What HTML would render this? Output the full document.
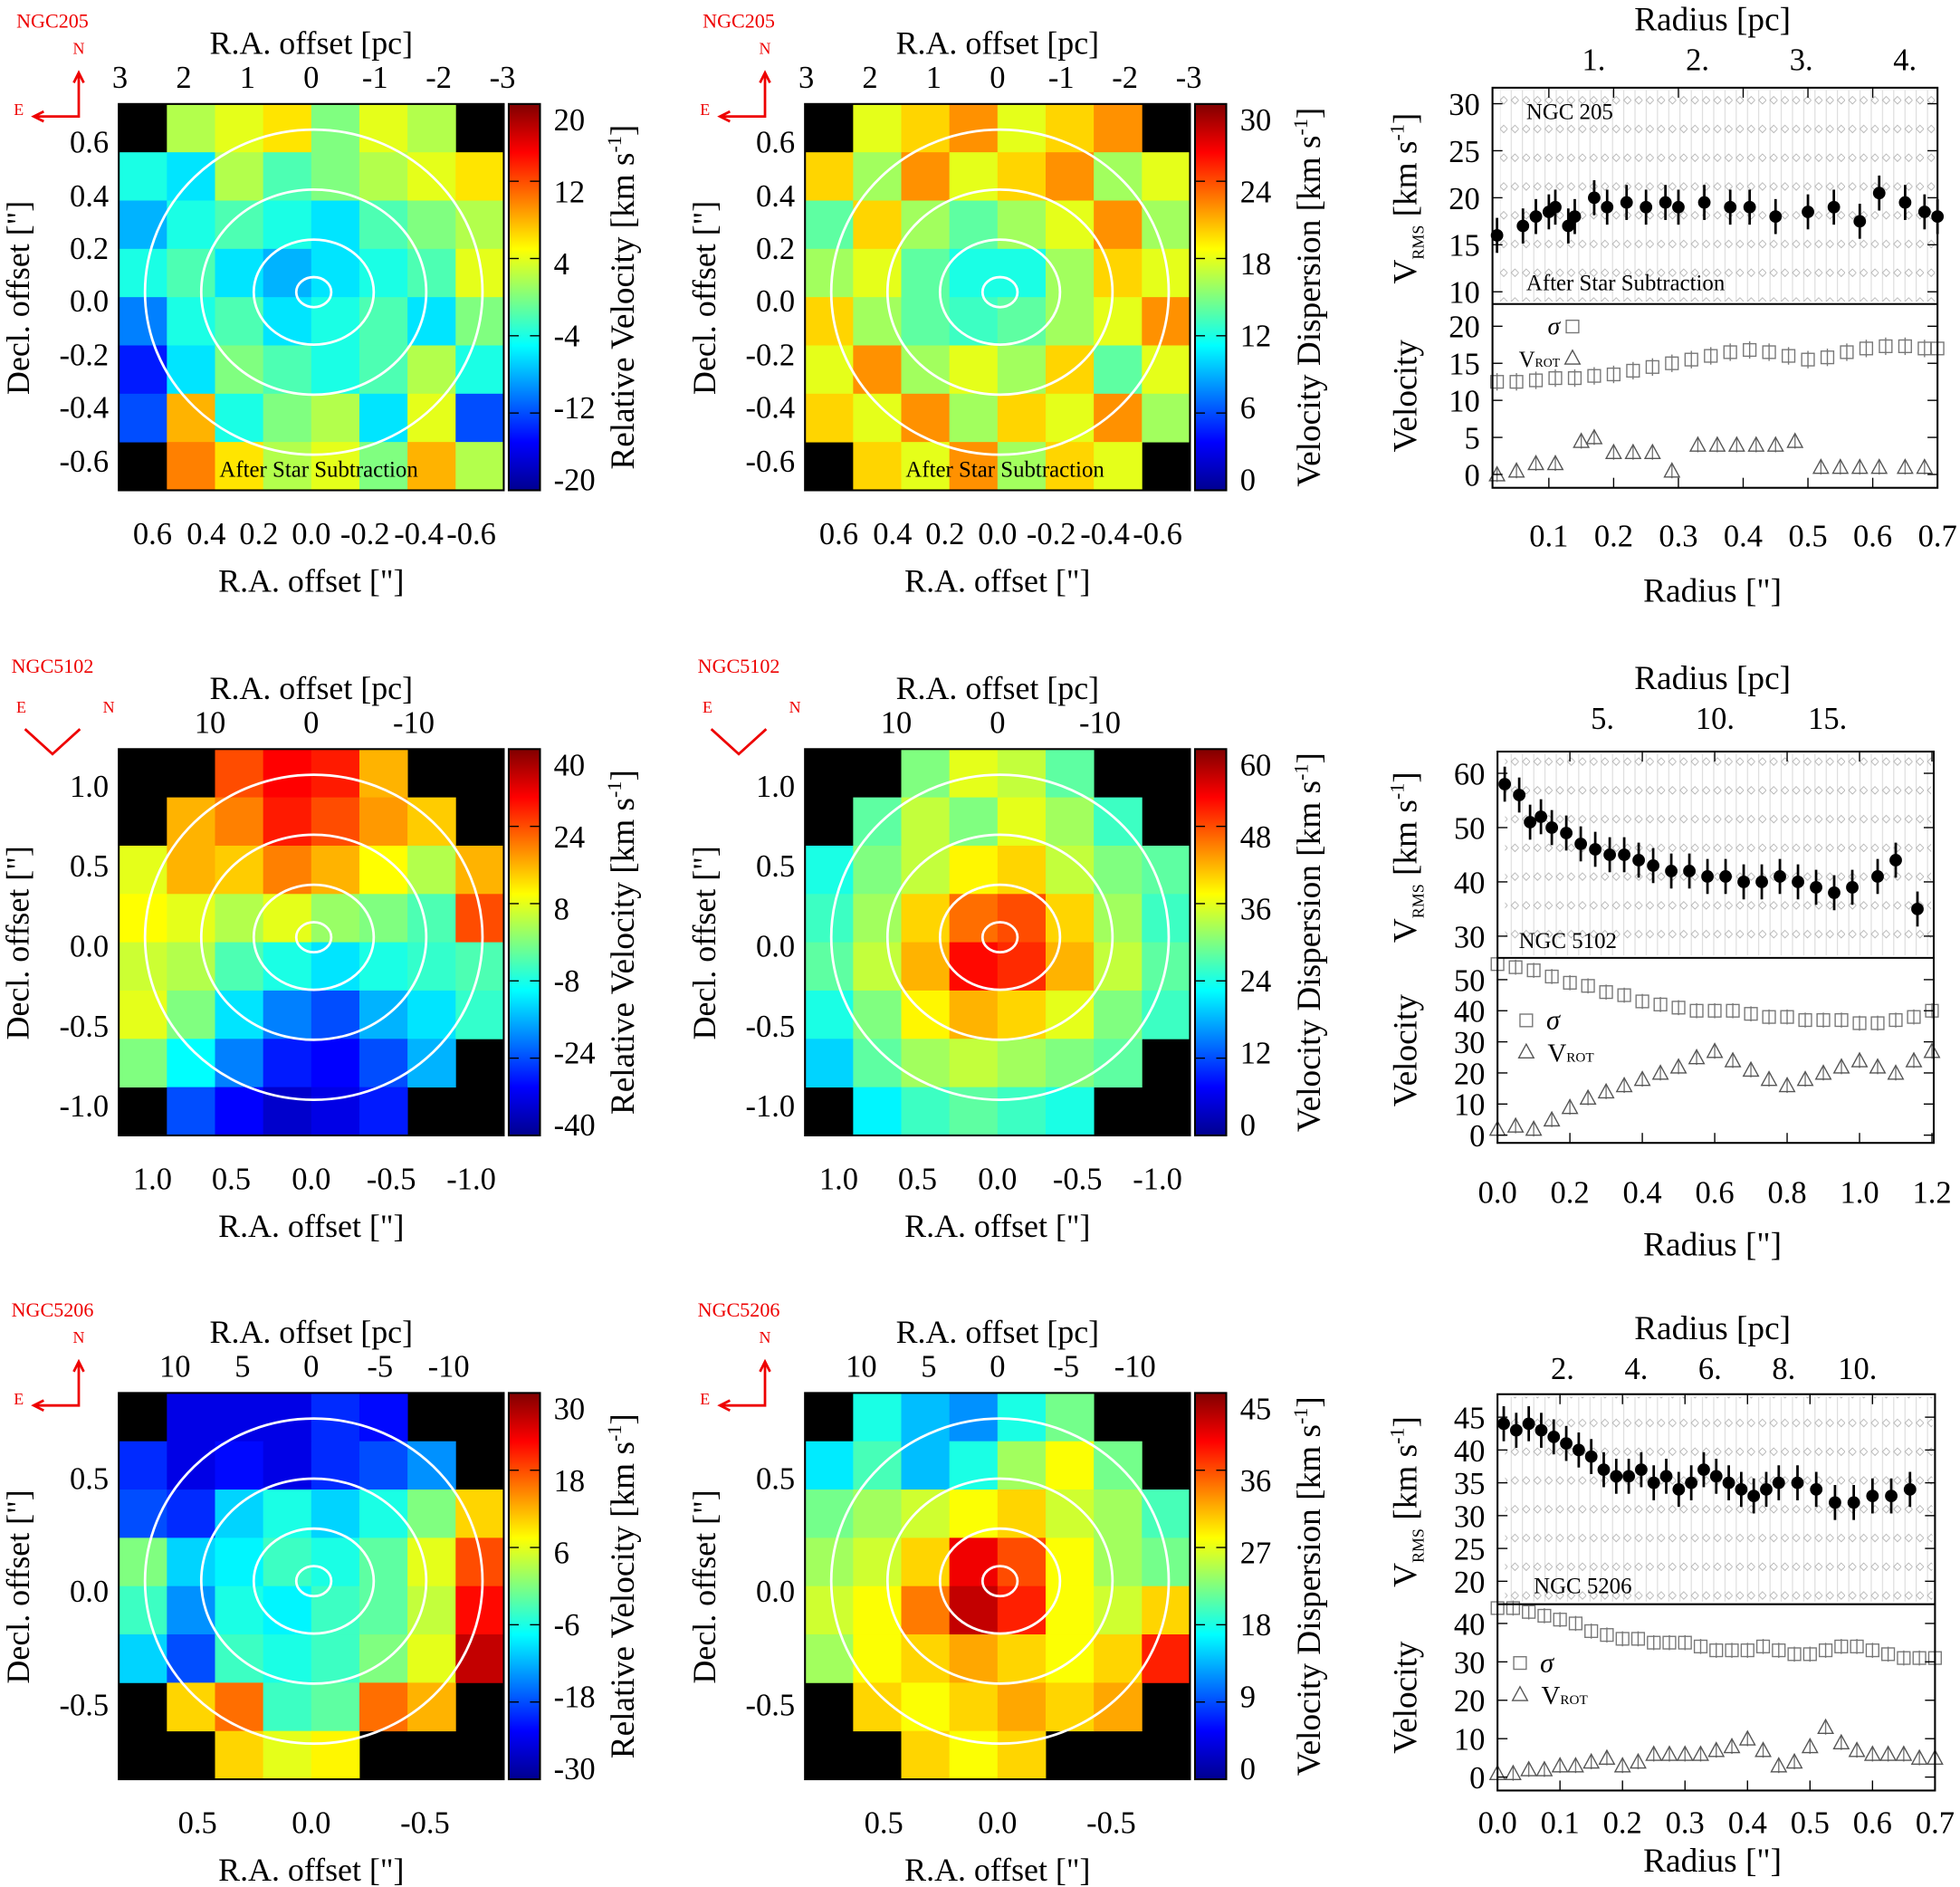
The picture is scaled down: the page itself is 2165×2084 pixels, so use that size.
<!DOCTYPE html>
<html><head><meta charset="utf-8"><style>
html,body{margin:0;padding:0;background:#fff}
svg{display:block}
text{font-family:"Liberation Serif",serif;fill:#000}
</style></head><body>
<svg id="fig" xmlns="http://www.w3.org/2000/svg" width="2165" height="2084" viewBox="0 0 1568 1509">
<defs>
<linearGradient id="jet" x1="0" y1="1" x2="0" y2="0">
<stop offset="0" stop-color="#00008f"/><stop offset="0.125" stop-color="#0000ff"/><stop offset="0.375" stop-color="#00ffff"/><stop offset="0.625" stop-color="#ffff00"/><stop offset="0.875" stop-color="#ff0000"/><stop offset="1" stop-color="#800000"/>
</linearGradient>
<pattern id="scat" width="9" height="23" patternUnits="userSpaceOnUse"><line x1="3" y1="0" x2="3" y2="23" stroke="#bbb" stroke-width="0.7"/><path d="M6 8l3 3-3 3-3-3z" fill="none" stroke="#777" stroke-width="0.6"/></pattern>
</defs>
<g id="root"></g>
</svg>
<script>
// ---- map data (8x8 grids, -99 = no data) ----
const map1Vel=[[-99,2,4,6,0,4,2,-99],[-4,-6,2,-2,0,2,4,6],[-8,-4,-2,-4,-6,-2,0,2],[-4,-2,-6,-8,-6,-4,-2,4],[-10,-4,-2,-6,-4,-2,-6,0],[-14,-6,0,-2,-4,-2,2,-4],[-12,8,-4,0,2,-6,4,-12],[-99,10,6,2,4,0,8,2]];
const map2Disp=[[-99,18,20,22,18,20,22,-99],[20,16,22,18,20,22,16,18],[14,20,16,14,16,18,22,16],[16,18,14,12,12,16,20,18],[20,16,14,13,14,16,18,22],[18,22,16,18,16,20,14,18],[20,18,22,16,20,18,22,16],[-99,20,18,22,16,20,18,-99]];
const map3Vel=[[-99,-99,24,30,28,16,-99,-99],[-99,16,20,28,24,18,14,-99],[8,16,14,20,16,10,4,16],[10,8,4,8,2,0,-4,24],[6,4,-4,-8,-12,-8,-6,-4],[8,0,-12,-20,-24,-16,-12,-6],[0,-10,-20,-28,-30,-24,-16,-99],[-99,-24,-30,-34,-32,-28,-99,-99]];
const map4Disp=[[-99,-99,30,36,34,28,-99,-99],[-99,28,34,30,36,32,26,-99],[24,30,34,38,40,34,30,28],[26,32,40,46,48,40,32,26],[28,34,42,52,50,42,34,28],[24,30,38,42,40,36,30,26],[20,28,32,34,32,30,28,-99],[-99,22,26,28,26,24,-99,-99]];
const map5Vel=[[-99,-24,-24,-24,-20,-22,-99,-99],[-20,-24,-22,-24,-20,-18,-14,-99],[-18,-20,-10,-6,-10,-6,0,10],[0,-10,-8,-4,-6,-2,6,18],[-4,-14,-6,-8,-4,-2,4,22],[-10,-18,-4,-6,-4,0,6,26],[-99,10,16,-4,-2,16,12,-99],[-99,-99,10,6,8,-99,-99,-99]];
const map6Disp=[[-99,18,14,12,18,22,-99,-99],[16,20,14,18,24,28,22,-99],[22,24,26,28,30,26,24,20],[24,26,30,40,36,28,24,22],[26,28,34,42,38,28,26,30],[24,28,30,32,30,28,30,38],[-99,30,28,30,32,30,32,-99],[-99,-99,30,28,30,-99,-99,-99]];
// ---- profile data ----
const p1R=[0.02,0.06,0.08,0.1,0.11,0.13,0.14,0.17,0.19,0.22,0.25,0.28,0.3,0.34,0.38,0.41,0.45,0.5,0.54,0.58,0.61,0.65,0.68,0.7];
const p1V=[16,17,18,18.5,19,17,18,20,19,19.5,19,19.5,19,19.5,19,19,18,18.5,19,17.5,20.5,19.5,18.5,18];
const p1SigR=[0.02,0.05,0.08,0.11,0.14,0.17,0.2,0.23,0.26,0.29,0.32,0.35,0.38,0.41,0.44,0.47,0.5,0.53,0.56,0.59,0.62,0.65,0.68,0.7];
const p1Sig=[12.5,12.5,12.7,13,13,13.3,13.5,14,14.5,15,15.5,16,16.5,16.8,16.5,16,15.5,15.8,16.5,17,17.3,17.3,17,17];
const p1RotR=[0.02,0.05,0.08,0.11,0.15,0.17,0.2,0.23,0.26,0.29,0.33,0.36,0.39,0.42,0.45,0.48,0.52,0.55,0.58,0.61,0.65,0.68];
const p1Rot=[0,0.5,1.5,1.5,4.5,5,3,3,3,0.5,4,4,4,4,4,4.5,1,1,1,1,1,1];
const p2R=[0.02,0.06,0.09,0.12,0.15,0.19,0.23,0.27,0.31,0.35,0.39,0.43,0.48,0.53,0.58,0.63,0.68,0.73,0.78,0.83,0.88,0.93,0.98,1.05,1.1,1.16];
const p2V=[58,56,51,52,50,49,47,46,45,45,44,43,42,42,41,41,40,40,41,40,39,38,39,41,44,35];
const p2SigR=[0,0.05,0.1,0.15,0.2,0.25,0.3,0.35,0.4,0.45,0.5,0.55,0.6,0.65,0.7,0.75,0.8,0.85,0.9,0.95,1.0,1.05,1.1,1.15,1.2];
const p2Sig=[55,54,53,51,49,48,46,45,43,42,41,40,40,40,39,38,38,37,37,37,36,36,37,38,40];
const p2RotR=[0,0.05,0.1,0.15,0.2,0.25,0.3,0.35,0.4,0.45,0.5,0.55,0.6,0.65,0.7,0.75,0.8,0.85,0.9,0.95,1.0,1.05,1.1,1.15,1.2];
const p2Rot=[2,3,2,5,9,12,14,16,18,20,22,25,27,24,21,18,16,18,20,22,24,22,20,24,27];
const p3R=[0.01,0.03,0.05,0.07,0.09,0.11,0.13,0.15,0.17,0.19,0.21,0.23,0.25,0.27,0.29,0.31,0.33,0.35,0.37,0.39,0.41,0.43,0.45,0.48,0.51,0.54,0.57,0.6,0.63,0.66];
const p3V=[44,43,44,43,42,41,40,39,37,36,36,37,35,36,34,35,37,36,35,34,33,34,35,35,34,32,32,33,33,34];
const p3SigR=[0,0.025,0.05,0.075,0.1,0.125,0.15,0.175,0.2,0.225,0.25,0.275,0.3,0.325,0.35,0.375,0.4,0.425,0.45,0.475,0.5,0.525,0.55,0.575,0.6,0.625,0.65,0.675,0.7];
const p3Sig=[44,44,43,42,41,40,38,37,36,36,35,35,35,34,33,33,33,34,33,32,32,33,34,34,33,32,31,31,31];
const p3RotR=[0,0.025,0.05,0.075,0.1,0.125,0.15,0.175,0.2,0.225,0.25,0.275,0.3,0.325,0.35,0.375,0.4,0.425,0.45,0.475,0.5,0.525,0.55,0.575,0.6,0.625,0.65,0.675,0.7];
const p3Rot=[1,1,2,2,3,3,4,5,3,4,6,6,6,6,7,8,10,7,3,4,8,13,9,7,6,6,6,5,5];

const NS="http://www.w3.org/2000/svg";
const root=document.getElementById('root');
function el(t,a,p){const e=document.createElementNS(NS,t);for(const k in a)e.setAttribute(k,a[k]);(p||root).appendChild(e);return e;}
function txt(x,y,s,size,opts,p){opts=opts||{};const e=el('text',{x:x,y:y,'font-size':size,'text-anchor':opts.anchor||'middle'},p);if(opts.rot)e.setAttribute('transform','rotate(-90 '+x+' '+y+')');if(opts.fill)e.setAttribute('style','fill:'+opts.fill);e.innerHTML=s;return e;}
function jet(t){t=Math.max(0,Math.min(1,t));const c=v=>Math.round(255*Math.max(0,Math.min(1,v)));return 'rgb('+c(1.5-Math.abs(4*t-3))+','+c(1.5-Math.abs(4*t-2))+','+c(1.5-Math.abs(4*t-1))+')';}

function map(x0,y0,grid,vmin,vmax,ticks,cbLabel,name){
  const g=el('g',{});
  
  
  const W=308,H=309,n=grid.length,cw=W/n,ch=H/n;
  el('rect',{x:x0,y:y0,width:W,height:H,fill:'#000'},g);
  grid.forEach((row,i)=>row.forEach((v,j)=>{if(v===-99)return;
    const r=el('rect',{x:x0+j*cw,y:y0+i*ch,width:cw+0.3,height:ch+0.3,fill:jet((v-vmin)/(vmax-vmin))},g);
    
    }));
  const cx=x0+W/2,cy=y0+H/2;
  [[14,12],[48,42],[90,82],[135,130]].forEach(([rx,ry])=>el('ellipse',{cx:cx+2,cy:cy-4,rx:rx,ry:ry,fill:'none',stroke:'#fff','stroke-width':2},g));
  el('rect',{x:x0,y:y0,width:W,height:H,fill:'none',stroke:'#000','stroke-width':1.5},g);
  const cb=el('rect',{x:x0+312,y:y0,width:25,height:H,fill:'url(#jet)',stroke:'#000','stroke-width':1.5},g);
  
  
  ticks.forEach(t=>{const f=(t-vmin)/(vmax-vmin);const y=y0+H-f*H;el('line',{x1:x0+312,x2:x0+320,y1:y,y2:y,stroke:'#000'},g);el('line',{x1:x0+329,x2:x0+337,y1:y,y2:y,stroke:'#000'},g);
    const tt=txt(x0+348,y+9+12-21*(1-f),String(t),25,{anchor:'start'},g);});
  const l=txt(x0+412,y0+H/2,cbLabel,27,{rot:1},g);
  
  
  return g;
}
function mapAxes(x0,y0,pcTicks,pcPos,yTicks,yPos,xTicks,xPos,gal,rot45){
  const g=el('g',{});
  
  
  txt(x0+154,y0-40,'R.A. offset [pc]',26,{},g);
  pcTicks.forEach((t,i)=>txt(pcPos[i],y0-13,t,25,{},g));
  yTicks.forEach((t,i)=>txt(x0-8,yPos[i]+9,t,25,{anchor:'end'},g));
  xTicks.forEach((t,i)=>txt(xPos[i],y0+352,t,25,{},g));
  txt(x0+154,y0+390,'R.A. offset ["]',26,{},g);
  txt(x0-72,y0+155,'Decl. offset ["]',26,{rot:1},g);
  const gl=txt(x0-53,y0-61,gal,16,{fill:'#e00'},g);
  
  
  const ax=el('g',{stroke:'#e00','stroke-width':2,fill:'none'},g);
  if(!rot45){el('path',{d:`M${x0-32} ${y0-25}v${35}h-36`},ax);el('path',{d:`M${x0-36} ${y0-17}l4-8 4 8M${x0-60} ${y0+6}l-8 4 8 4`},ax);
    txt(x0-32,y0-40,'N',13,{fill:'#e00'},g);txt(x0-80,y0+9,'E',13,{fill:'#e00'},g);}
  else{el('path',{d:`M${x0-75} ${y0-16}l22 20 22-20`},ax);txt(x0-78,y0-29,'E',13,{fill:'#e00'},g);txt(x0-8,y0-29,'N',13,{fill:'#e00'},g);}
}
const KMS='[km s<tspan dy="-10" font-size="16">-1</tspan><tspan dy="10">]</tspan>';
map(95,83,map1Vel,-20,20,[-20,-12,-4,4,12,20],'Relative Velocity '+KMS,'velocity-map-ngc205');
map(644,83,map2Disp,0,30,[0,6,12,18,24,30],'Velocity Dispersion '+KMS,'dispersion-map-ngc205');
[95,644].forEach(x=>{mapAxes(x,83,['3','2','1','0','-1','-2','-3'],[x+1,x+52,x+103,x+154,x+205,x+256,x+307],['0.6','0.4','0.2','0.0','-0.2','-0.4','-0.6'],[113,156,198,240,283,325,368],['0.6','0.4','0.2','0.0','-0.2','-0.4','-0.6'],[x+27,x+70,x+112,x+154,x+197,x+240,x+282],'NGC205',false);
  txt(x+160,381,'After Star Subtraction',18);});
map(95,599,map3Vel,-40,40,[-40,-24,-8,8,24,40],'Relative Velocity '+KMS,'velocity-map-ngc5102');
map(644,599,map4Disp,0,60,[0,12,24,36,48,60],'Velocity Dispersion '+KMS,'dispersion-map-ngc5102');
[95,644].forEach(x=>mapAxes(x,599,['10','0','-10'],[x+73,x+154,x+236],['1.0','0.5','0.0','-0.5','-1.0'],[628,692,756,820,884],['1.0','0.5','0.0','-0.5','-1.0'],[x+27,x+90,x+154,x+218,x+282],'NGC5102',true));
map(95,1114,map5Vel,-30,30,[-30,-18,-6,6,18,30],'Relative Velocity '+KMS,'velocity-map-ngc5206');
map(644,1114,map6Disp,0,45,[0,9,18,27,36,45],'Velocity Dispersion '+KMS,'dispersion-map-ngc5206');
[95,644].forEach(x=>mapAxes(x,1114,['10','5','0','-5','-10'],[x+45,x+99,x+154,x+209,x+264],['0.5','0.0','-0.5'],[1182,1272,1363],['0.5','0.0','-0.5'],[x+63,x+154,x+245],'NGC5206',false));

function profile(cfg){
  const g=el('g',{});
  
  
  const {x0,x1,xmin,xmax,ty0,ty1,tmin,tmax,by1,bmin,bmax}=cfg;
  const X=v=>x0+(v-xmin)/(xmax-xmin)*(x1-x0);
  const YT=v=>ty1-(v-tmin)/(tmax-tmin)*(ty1-ty0);
  const YB=v=>by1-(v-bmin)/(bmax-bmin)*(by1-ty1);
  el('rect',{x:x0+6,y:ty0+2,width:x1-x0-8,height:ty1-ty0-4,fill:'url(#scat)',opacity:0.6},g);
  cfg.r.forEach((r,i)=>{const v=cfg.v[i];el('line',{x1:X(r),x2:X(r),y1:YT(v)-cfg.err,y2:YT(v)+cfg.err,stroke:'#000','stroke-width':2},g);
    const c=el('circle',{cx:X(r),cy:YT(v),r:5,fill:'#000'},g);});
  cfg.sr.forEach((r,i)=>{const y=YB(cfg.s[i]);el('line',{x1:X(r),x2:X(r),y1:y-cfg.serr,y2:y+cfg.serr,stroke:'#777'},g);
    const s=el('rect',{x:X(r)-5,y:y-5,width:10,height:10,fill:'none',stroke:'#777'},g);});
  cfg.rr.forEach((r,i)=>{const y=YB(cfg.rot[i]);el('line',{x1:X(r),x2:X(r),y1:y-6,y2:y+6,stroke:'#777'},g);
    const t=el('path',{d:`M${X(r)-6} ${y+5}h12l-6-11z`,fill:'none',stroke:'#555'},g);});
  el('rect',{x:x0,y:ty0,width:x1-x0,height:by1-ty0,fill:'none',stroke:'#000','stroke-width':1.5},g);
  el('line',{x1:x0,x2:x1,y1:ty1,y2:ty1,stroke:'#000','stroke-width':1.5},g);
  cfg.tt.forEach(t=>{const y=YT(t);el('line',{x1:x0,x2:x0+8,y1:y,y2:y,stroke:'#000'},g);el('line',{x1:x1,x2:x1-8,y1:y,y2:y,stroke:'#000'},g);txt(x0-10,y+9,String(t),25,{anchor:'end'},g);});
  cfg.bt.forEach(t=>{const y=YB(t);el('line',{x1:x0,x2:x0+8,y1:y,y2:y,stroke:'#000'},g);el('line',{x1:x1,x2:x1-8,y1:y,y2:y,stroke:'#000'},g);txt(x0-10,y+9,String(t),25,{anchor:'end'},g);});
  cfg.xt.forEach(t=>{const x=X(t);el('line',{x1:x,x2:x,y1:by1,y2:by1-8,stroke:'#000'},g);el('line',{x1:x,x2:x,y1:ty0,y2:ty0+8,stroke:'#000'},g);txt(x,by1+cfg.xtOff,t.toFixed(1),25,{},g);});
  cfg.pct.forEach((t,i)=>txt(cfg.pcx[i],ty0-cfg.pcOff,t,25,{},g));
  txt(1370,ty0-cfg.pcOff-32,'Radius [pc]',27,{},g);
  txt(1370,by1+cfg.xtOff+cfg.labOff,'Radius ["]',27,{},g);
  txt(1133,(ty0+ty1)/2+2,'V<tspan font-size="13" dy="6">RMS</tspan><tspan dy="-6"> '+KMS+'</tspan>',27,{rot:1},g);
  txt(1133,(ty1+by1)/2,'Velocity',27,{rot:1},g);
  txt(cfg.labX,cfg.labY,cfg.label,18,{anchor:'start'},g);
  const [lx,ly,left]=cfg.leg;
  el('rect',{x:lx-5,y:ly-5,width:10,height:10,fill:'none',stroke:'#777'},g);
  el('path',{d:`M${lx-6} ${ly+30}h12l-6-11z`,fill:'none',stroke:'#555'},g);
  if(left){txt(lx-10,ly+6,'<tspan font-style="italic">σ</tspan>',20,{anchor:'end'},g);
    txt(lx-10,ly+32,'V<tspan font-size="10">ROT</tspan>',18,{anchor:'end'},g);}
  else{txt(lx+16,ly+7,'<tspan font-style="italic">σ</tspan>',22,{anchor:'start'},g);
    txt(lx+17,ly+33,'V<tspan font-size="11">ROT</tspan>',21,{anchor:'start'},g);}
}
profile({name:'profile-ngc205',x0:1194,x1:1550,xmin:0.013,xmax:0.7,ty0:70,ty1:243,tmin:8.7,tmax:31.7,by1:390,bmin:-1.8,bmax:23,err:14,serr:7,
  r:p1R,v:p1V,sr:p1SigR,s:p1Sig,rr:p1RotR,rot:p1Rot,tt:[10,15,20,25,30],bt:[0,5,10,15,20],xt:[0.1,0.2,0.3,0.4,0.5,0.6,0.7],xtOff:47,labOff:44,
  pct:['1.','2.','3.','4.'],pcx:[1275,1358,1441,1524],pcOff:14,label:'NGC 205',labX:1221,labY:95,leg:[1258,261,true]});
txt(1221,232,'After Star Subtraction',18,{anchor:'start'});
profile({name:'profile-ngc5102',x0:1198,x1:1547,xmin:0,xmax:1.205,ty0:601,ty1:766,tmin:26,tmax:64,by1:914,bmin:-2.5,bmax:57,err:14,serr:6,
  r:p2R,v:p2V,sr:p2SigR,s:p2Sig,rr:p2RotR,rot:p2Rot,tt:[30,40,50,60],bt:[0,10,20,30,40,50],xt:[0,0.2,0.4,0.6,0.8,1.0,1.2],xtOff:48,labOff:42,
  pct:['5.','10.','15.'],pcx:[1282,1372,1462],pcOff:18,label:'NGC 5102',labX:1215,labY:758,leg:[1221,816,false]});
profile({name:'profile-ngc5206',x0:1198,x1:1548,xmin:0,xmax:0.7,ty0:1115,ty1:1283,tmin:16.5,tmax:48.5,by1:1432,bmin:-3.5,bmax:45,err:14,serr:6,
  r:p3R,v:p3V,sr:p3SigR,s:p3Sig,rr:p3RotR,rot:p3Rot,tt:[20,25,30,35,40,45],bt:[0,10,20,30,40],xt:[0,0.1,0.2,0.3,0.4,0.5,0.6,0.7],xtOff:34,labOff:31,
  pct:['2.','4.','6.','8.','10.'],pcx:[1250,1309,1368,1427,1486],pcOff:12,label:'NGC 5206',labX:1227,labY:1274,leg:[1216,1330,false]});
</script>
</body></html>
